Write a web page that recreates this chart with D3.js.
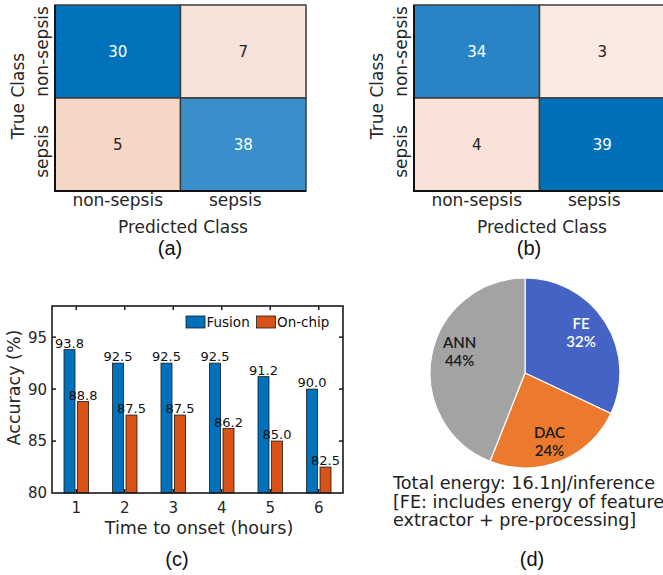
<!DOCTYPE html>
<html><head><meta charset="utf-8">
<script src="https://cdn.jsdelivr.net/npm/d3@7"></script>
<style>body{margin:0;background:#fff}svg{display:block}</style>
</head><body><svg id="chart" width="663" height="575"></svg>
<script>
// ---------- data ----------
const classes = ["non-sepsis", "sepsis"];
const matrixA = [[30, 7], [5, 38]];
const matrixB = [[34, 3], [4, 39]];
const hours = [1, 2, 3, 4, 5, 6];
const fusion = [93.8, 92.5, 92.5, 92.5, 91.2, 90.0];
const onChip = [88.8, 87.5, 87.5, 86.2, 85.0, 82.5];
const seriesNames = ["Fusion", "On-chip"];
const yTicks = [80, 85, 90, 95];
const pieLabels = ["FE", "DAC", "ANN"];
const pieValues = [32, 24, 44];
const energyNote = ["Total energy: 16.1nJ/inference", "[FE: includes energy of feature", "extractor + pre-processing]"];
const panelLabels = ["(a)", "(b)", "(c)", "(d)"];

// ---------- styles ----------
const cellColorsA = [["#0072bb", "#f8e3da"], ["#f5d7c8", "#3a8fca"]];
const cellColorsB = [["#2884c7", "#fbeae3"], ["#f9e3d8", "#0070b9"]];
const seriesColors = ["#0072bd", "#d95319"];
const pieColors = ["#4563c4", "#eb7a2f", "#a3a3a3"];
const pieLabelNudge = [-6, 5, -10];
const FONT = "'DejaVu Sans', Verdana, sans-serif";

const svg = d3.select("#chart");

// ---------- confusion matrices ----------
function drawCM(data, colors, x0, x1, y0, y1, label) {
  const g = svg.append("g");
  const x = d3.scaleBand().domain([0, 1]).range([x0, x1]);
  const y = d3.scaleBand().domain([0, 1]).range([y0, y1]);
  const cells = [];
  data.forEach((row, r) => row.forEach((v, c) => cells.push({ r, c, v })));
  g.selectAll("rect.cell").data(cells).join("rect")
    .attr("x", d => x(d.c)).attr("y", d => y(d.r))
    .attr("width", x.bandwidth()).attr("height", y.bandwidth())
    .attr("fill", d => colors[d.r][d.c])
    .attr("stroke", "#3c3c3c").attr("stroke-width", 1.5);
  g.selectAll("text.val").data(cells).join("text")
    .attr("x", d => x(d.c) + x.bandwidth() / 2)
    .attr("y", d => y(d.r) + y.bandwidth() / 2)
    .attr("dy", "0.36em")
    .attr("text-anchor", "middle")
    .attr("font-family", FONT).attr("font-size", 15)
    .attr("fill", d => d.r === d.c ? "#ffffff" : "#222")
    .text(d => d.v);
  g.append("line").attr("x1", x0).attr("x2", x0).attr("y1", y0).attr("y2", y1 + 1)
    .attr("stroke", "#111").attr("stroke-width", 2);
  g.append("line").attr("x1", x0 - 1).attr("x2", x1).attr("y1", y1).attr("y2", y1)
    .attr("stroke", "#111").attr("stroke-width", 2);
  g.selectAll("text.xt").data(classes).join("text")
    .attr("x", (d, i) => x(i) + x.bandwidth() / 2 - (i === 1 ? 8 : 0))
    .attr("y", y1 + 15)
    .attr("text-anchor", "middle")
    .attr("font-family", FONT).attr("font-size", 17).attr("fill", "#262626")
    .text(d => d);
  g.selectAll("text.yt").data(classes).join("text")
    .attr("transform", (d, i) => `translate(${x0 - 7},${y(i) + y.bandwidth() / 2 + (i === 1 ? 7 : 0)}) rotate(-90)`)
    .attr("text-anchor", "middle")
    .attr("font-family", FONT).attr("font-size", 17).attr("fill", "#262626")
    .text(d => d);
  g.append("text")
    .attr("transform", `translate(${x0 - 31},${(y0 + y1) / 2 - 2}) rotate(-90)`)
    .attr("text-anchor", "middle")
    .attr("font-family", FONT).attr("font-size", 17).attr("fill", "#262626")
    .text("True Class");
  g.append("text")
    .attr("x", (x0 + x1) / 2 + 2.5).attr("y", y1 + 42)
    .attr("text-anchor", "middle")
    .attr("font-family", FONT).attr("font-size", 17).attr("fill", "#262626")
    .text("Predicted Class");
  g.append("text")
    .attr("x", (x0 + x1) / 2 - 10.5).attr("y", 255)
    .attr("text-anchor", "middle")
    .attr("font-family", "'Liberation Sans', Arial, sans-serif").attr("font-size", 20).attr("fill", "#111")
    .text(label);
}
drawCM(matrixA, cellColorsA, 55, 306, 5, 191, panelLabels[0]);
drawCM(matrixB, cellColorsB, 414, 665, 5, 191, panelLabels[1]);

// ---------- bar chart (c) ----------
(function () {
  const L = 52, R = 343, T = 306, B = 493;
  const g = svg.append("g");
  const x = d3.scaleLinear().domain([0.5, 6.5]).range([L, R]);
  const y = d3.scaleLinear().domain([80, 98]).range([B, T]);
  const bw = 11, off = 6.75;
  const series = [fusion, onChip];
  series.forEach((vals, s) => {
    const dx = s === 0 ? -off : off;
    g.selectAll(null).data(vals).join("rect")
      .attr("x", (d, i) => x(hours[i]) + dx - bw / 2)
      .attr("y", d => y(d))
      .attr("width", bw).attr("height", d => y(80) - y(d))
      .attr("fill", seriesColors[s])
      .attr("stroke", "#1a1a1a").attr("stroke-width", 0.8);
    g.selectAll(null).data(vals).join("text")
      .attr("x", (d, i) => x(hours[i]) + dx)
      .attr("y", d => y(d) - 2)
      .attr("text-anchor", "middle")
      .attr("font-family", FONT).attr("font-size", 13).attr("fill", "#111")
      .text(d => d.toFixed(1));
  });
  g.append("rect").attr("x", L).attr("y", T).attr("width", R - L).attr("height", B - T)
    .attr("fill", "none").attr("stroke", "#1a1a1a").attr("stroke-width", 1.6);
  const tl = 4;
  g.selectAll(null).data(yTicks.filter(t => t > 80)).join("line")
    .attr("x1", L).attr("x2", L + tl).attr("y1", d => y(d)).attr("y2", d => y(d))
    .attr("stroke", "#1a1a1a").attr("stroke-width", 1.5);
  g.selectAll(null).data(yTicks.filter(t => t > 80)).join("line")
    .attr("x1", R).attr("x2", R - tl).attr("y1", d => y(d)).attr("y2", d => y(d))
    .attr("stroke", "#1a1a1a").attr("stroke-width", 1.5);
  g.selectAll(null).data(hours).join("line")
    .attr("x1", d => x(d)).attr("x2", d => x(d)).attr("y1", T).attr("y2", T + tl)
    .attr("stroke", "#1a1a1a").attr("stroke-width", 1.5);
  g.selectAll(null).data(hours).join("line")
    .attr("x1", d => x(d)).attr("x2", d => x(d)).attr("y1", B).attr("y2", B - tl)
    .attr("stroke", "#1a1a1a").attr("stroke-width", 1.5);
  g.selectAll(null).data(yTicks).join("text")
    .attr("x", L - 5).attr("y", d => y(d)).attr("dy", "0.36em")
    .attr("text-anchor", "end")
    .attr("font-family", FONT).attr("font-size", 15).attr("fill", "#262626")
    .text(d => d);
  g.selectAll(null).data(hours).join("text")
    .attr("x", d => x(d)).attr("y", B + 20)
    .attr("text-anchor", "middle")
    .attr("font-family", FONT).attr("font-size", 15).attr("fill", "#262626")
    .text(d => d);
  g.append("text")
    .attr("x", (L + R) / 2 + 1.5).attr("y", B + 41)
    .attr("text-anchor", "middle")
    .attr("font-family", FONT).attr("font-size", 17.5).attr("fill", "#262626")
    .text("Time to onset (hours)");
  g.append("text")
    .attr("transform", `translate(${L - 32},${(T + B) / 2 - 12}) rotate(-90)`)
    .attr("text-anchor", "middle")
    .attr("font-family", FONT).attr("font-size", 17.5).attr("fill", "#262626")
    .text("Accuracy (%)");
  const lg = g.append("g");
  const legX = [186, 256.5];
  seriesNames.forEach((n, i) => {
    lg.append("rect").attr("x", legX[i]).attr("y", 316).attr("width", 19).attr("height", 12)
      .attr("fill", seriesColors[i]).attr("stroke", "#1a1a1a").attr("stroke-width", 0.8);
    lg.append("text").attr("x", legX[i] + 20.5).attr("y", 327)
      .attr("font-family", FONT).attr("font-size", 13.5).attr("fill", "#111").text(n);
  });
  g.append("text").attr("x", 177).attr("y", 566).attr("text-anchor", "middle")
    .attr("font-family", "'Liberation Sans', Arial, sans-serif").attr("font-size", 20).attr("fill", "#111")
    .text(panelLabels[2]);
})();

// ---------- pie (d) ----------
(function () {
  const cx = 525, cy = 373, r = 95;
  const g = svg.append("g").attr("transform", `translate(${cx},${cy})`);
  const pie = d3.pie().sort(null).value(d => d)(pieValues);
  const arc = d3.arc().innerRadius(0).outerRadius(r);
  const labelArc = d3.arc().innerRadius(r * 0.7).outerRadius(r * 0.7);
  g.selectAll("path").data(pie).join("path")
    .attr("d", arc).attr("fill", (d, i) => pieColors[i])
    .attr("stroke", "#ffffff").attr("stroke-width", 1.2);
  const lab = g.selectAll("text.pl").data(pie).join("text")
    .attr("transform", (d, i) => { const c = labelArc.centroid(d); return `translate(${c[0]},${c[1] + pieLabelNudge[i]})`; })
    .attr("text-anchor", "middle")
    .attr("font-family", "Lato, 'Open Sans', sans-serif").attr("font-size", 15).attr("font-weight", 600)
    .attr("fill", (d, i) => i === 0 ? "#ffffff" : "#1a1a1a");
  lab.append("tspan").attr("x", 0).attr("dy", "-0.15em").text((d, i) => pieLabels[i]);
  lab.append("tspan").attr("x", 0).attr("dy", "1.2em").text((d, i) => pieValues[i] + "%");
  svg.selectAll("text.note").data(energyNote).join("text")
    .attr("x", 393).attr("y", (d, i) => 489 + i * 18.5)
    .attr("font-family", FONT).attr("font-size", 17.6).attr("fill", "#222")
    .text(d => d);
  svg.append("text").attr("x", 532).attr("y", 566).attr("text-anchor", "middle")
    .attr("font-family", "'Liberation Sans', Arial, sans-serif").attr("font-size", 20).attr("fill", "#111")
    .text(panelLabels[3]);
})();
</script></body></html>
